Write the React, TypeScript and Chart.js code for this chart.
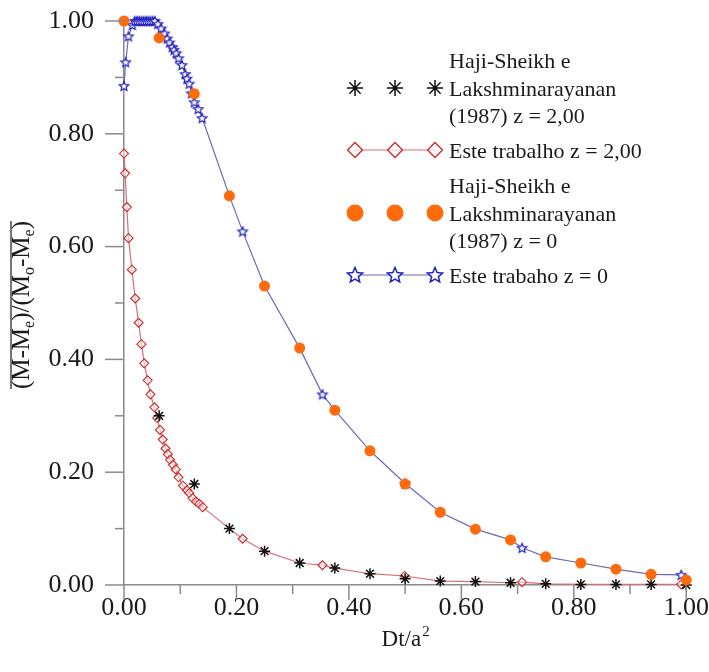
import React, { useEffect, useRef } from "react";
import { Chart, registerables } from "chart.js";
Chart.register(...registerables);

const SERIF = "'Liberation Serif', 'Times New Roman', serif";
const AXIS = "#8a8a8a";
const TEXT = "#1a1a1a";

// Haji-Sheikh e Lakshminarayanan (1987) z = 2,00  (black asterisks)
const hsZ2X = [0.0625, 0.125, 0.1875, 0.25, 0.3125, 0.375, 0.4375, 0.5, 0.5625, 0.625, 0.6875, 0.75, 0.8125, 0.875, 0.9375, 1.0];
const hsZ2Y = [0.300, 0.179, 0.100, 0.060, 0.039, 0.030, 0.020, 0.011, 0.007, 0.006, 0.004, 0.002, 0.001, 0.001, 0.001, 0.0];

// Este trabalho z = 2,00 (red diamonds)
const twZ2X = [0.000, 0.002, 0.005, 0.008, 0.014, 0.020, 0.026, 0.031, 0.036, 0.042, 0.047, 0.054, 0.059, 0.064, 0.069, 0.074, 0.078, 0.082, 0.087, 0.092, 0.097, 0.105, 0.112, 0.116, 0.122, 0.128, 0.134, 0.140, 0.211, 0.353, 0.499, 0.708, 0.991];
const twZ2Y = [0.765, 0.730, 0.670, 0.615, 0.559, 0.508, 0.465, 0.427, 0.393, 0.363, 0.338, 0.315, 0.296, 0.275, 0.258, 0.242, 0.232, 0.222, 0.213, 0.205, 0.191, 0.176, 0.168, 0.163, 0.154, 0.148, 0.144, 0.138, 0.082, 0.035, 0.016, 0.005, 0.001];

// Haji-Sheikh e Lakshminarayanan (1987) z = 0 (orange circles)
const hsZ0X = [0, 0.0625, 0.125, 0.1875, 0.25, 0.3125, 0.375, 0.4375, 0.5, 0.5625, 0.625, 0.6875, 0.75, 0.8125, 0.875, 0.9375, 1.0];
const hsZ0Y = [1.0, 0.970, 0.871, 0.690, 0.530, 0.420, 0.310, 0.238, 0.179, 0.129, 0.099, 0.080, 0.050, 0.039, 0.028, 0.019, 0.009];

// Este trabaho z = 0 (blue stars)
const twZ0X = [0.000, 0.003, 0.008, 0.015, 0.019, 0.023, 0.027, 0.031, 0.035, 0.039, 0.043, 0.047, 0.051, 0.055, 0.060, 0.066, 0.072, 0.077, 0.081, 0.086, 0.089, 0.093, 0.097, 0.103, 0.109, 0.112, 0.116, 0.120, 0.125, 0.132, 0.139, 0.211, 0.353, 0.500, 0.708, 0.991];
const twZ0Y = [0.885, 0.927, 0.973, 0.993, 1.0, 1.0, 1.0, 1.0, 1.0, 1.0, 1.0, 1.0, 1.0, 1.0, 0.995, 0.987, 0.978, 0.969, 0.962, 0.954, 0.949, 0.943, 0.934, 0.922, 0.906, 0.898, 0.889, 0.872, 0.856, 0.844, 0.828, 0.627, 0.338, 0.180, 0.066, 0.018];

const tickValues = [0, 0.1, 0.2, 0.3, 0.4, 0.5, 0.6, 0.7, 0.8, 0.9, 1.0];

const legendZ2Ref = ["Haji-Sheikh e", "Lakshminarayanan", "(1987) z = 2,00"];
const legendZ2Work = ["Este trabalho z = 2,00"];
const legendZ0Ref = ["Haji-Sheikh e", "Lakshminarayanan", "(1987) z = 0"];
const legendZ0Work = ["Este trabaho z = 0"];

const BLUE = "#2424c0";
const BLUE_LINE = "#6a6ab8";
const RED = "#d02828";
const RED_LINE = "#d87070";
const ORANGE = "#ff6a0a";

function makeStarCanvas(r: number, color: string, lw: number) {
  const pad = 2;
  const size = Math.ceil(2 * (r + pad));
  const c = document.createElement("canvas");
  c.width = size;
  c.height = size;
  const ctx = c.getContext("2d")!;
  const cx = size / 2, cy = size / 2 + 0.5;
  const ri = r * 0.45;
  ctx.beginPath();
  for (let i = 0; i < 10; i++) {
    const a = -Math.PI / 2 + (i * Math.PI) / 5;
    const rr = i % 2 === 0 ? r : ri;
    const px = cx + rr * Math.cos(a), py = cy + rr * Math.sin(a);
    if (i === 0) ctx.moveTo(px, py); else ctx.lineTo(px, py);
  }
  ctx.closePath();
  ctx.fillStyle = "#ffffff";
  ctx.fill();
  ctx.strokeStyle = color;
  ctx.lineWidth = lw;
  ctx.stroke();
  return c;
}

function pts(xs: number[], ys: number[]) {
  return xs.map((x, i) => ({ x, y: ys[i] }));
}

function mergeLine(mx: number[], my: number[], hx: number[], hy: number[], from: number) {
  const p = pts(mx, my);
  hx.forEach((x, i) => {
    if (x >= from && !mx.some((m) => Math.abs(m - x) < 0.015)) p.push({ x, y: hy[i] });
  });
  p.sort((a, b) => a.x - b.x);
  return p;
}

function drawAsterisk(ctx: CanvasRenderingContext2D, x: number, y: number, r: number) {
  ctx.beginPath();
  ctx.moveTo(x - r, y); ctx.lineTo(x + r, y);
  ctx.moveTo(x, y - r); ctx.lineTo(x, y + r);
  const d = r * Math.SQRT1_2;
  ctx.moveTo(x - d, y - d); ctx.lineTo(x + d, y + d);
  ctx.moveTo(x - d, y + d); ctx.lineTo(x + d, y - d);
  ctx.stroke();
}

export default function App() {
  const ref = useRef<HTMLCanvasElement>(null);
  useEffect(() => {
    const starSmall = makeStarCanvas(5, BLUE, 1.2);
    const starBig = makeStarCanvas(8, BLUE, 1.5);

    const overlay = {
      id: "overlay",
      afterDraw(chart: any) {
        const ctx: CanvasRenderingContext2D = chart.ctx;
        const xs = chart.scales.x, ys = chart.scales.y;
        const area = chart.chartArea;
        ctx.save();
        // ticks
        ctx.strokeStyle = AXIS;
        ctx.lineWidth = 1.5;
        tickValues.forEach((v, i) => {
          const major = i % 2 === 0;
          const px = xs.getPixelForValue(v);
          ctx.beginPath();
          ctx.moveTo(px, area.bottom);
          ctx.lineTo(px, area.bottom + (major ? 15 : 9));
          ctx.stroke();
          const py = ys.getPixelForValue(v);
          ctx.beginPath();
          ctx.moveTo(area.left, py);
          ctx.lineTo(area.left - (major ? 19 : 9), py);
          ctx.stroke();
        });

        // x title
        ctx.fillStyle = TEXT;
        ctx.textBaseline = "alphabetic";
        ctx.textAlign = "left";
        ctx.font = `23px ${SERIF}`;
        const main = "Dt/a";
        const wMain = ctx.measureText(main).width;
        ctx.font = `15px ${SERIF}`;
        const wSup = ctx.measureText("2").width;
        const xStart = (area.left + area.right) / 2 - (wMain + wSup) / 2;
        ctx.font = `23px ${SERIF}`;
        ctx.fillText(main, xStart, 646);
        ctx.font = `15px ${SERIF}`;
        ctx.fillText("2", xStart + wMain + 1, 636);

        // y title
        const big = `25px ${SERIF}`;
        const small = `16px ${SERIF}`;
        const parts: [string, boolean][] = [["(M-M", false], ["e", true], [")/(M", false], ["o", true], ["-M", false], ["e", true], [")", false]];
        let total = 0;
        parts.forEach(([t, sub]) => {
          ctx.font = sub ? small : big;
          total += ctx.measureText(t).width;
        });
        ctx.save();
        ctx.translate(29, 305);
        ctx.rotate(-Math.PI / 2);
        let cx = -total / 2;
        parts.forEach(([t, sub]) => {
          ctx.font = sub ? small : big;
          ctx.fillText(t, cx, sub ? 5 : 0);
          cx += ctx.measureText(t).width;
        });
        ctx.strokeStyle = TEXT;
        ctx.lineWidth = 1.2;
        ctx.beginPath();
        ctx.moveTo(-total / 2, -18);
        ctx.lineTo(total / 2, -18);
        ctx.stroke();
        ctx.restore();

        // legend
        const mx = [355, 395, 435];
        const tx = 449;
        ctx.font = `22px ${SERIF}`;
        ctx.fillStyle = TEXT;
        const writeLines = (lines: string[], firstBaseline: number) => {
          lines.forEach((l, i) => ctx.fillText(l, tx, firstBaseline + i * 27.5));
        };
        // entry 1: asterisks
        ctx.strokeStyle = "#111";
        ctx.lineWidth = 1.5;
        mx.forEach((x) => drawAsterisk(ctx, x, 88, 8));
        writeLines(legendZ2Ref, 68);
        // entry 2: red diamonds with line
        ctx.strokeStyle = RED_LINE;
        ctx.lineWidth = 1.2;
        ctx.beginPath();
        ctx.moveTo(mx[0], 150); ctx.lineTo(mx[2], 150);
        ctx.stroke();
        ctx.strokeStyle = RED;
        ctx.lineWidth = 1.3;
        mx.forEach((x) => {
          const r = 7.5;
          ctx.beginPath();
          ctx.moveTo(x, 150 - r); ctx.lineTo(x + r, 150); ctx.lineTo(x, 150 + r); ctx.lineTo(x - r, 150);
          ctx.closePath();
          ctx.fillStyle = "rgba(255,255,255,0.6)";
          ctx.fill();
          ctx.stroke();
        });
        ctx.fillStyle = TEXT;
        writeLines(legendZ2Work, 157.5);
        // entry 3: orange circles
        ctx.fillStyle = ORANGE;
        mx.forEach((x) => {
          ctx.beginPath();
          ctx.arc(x, 213, 8.5, 0, Math.PI * 2);
          ctx.fill();
        });
        ctx.fillStyle = TEXT;
        writeLines(legendZ0Ref, 193);
        // entry 4: blue stars with line
        ctx.strokeStyle = BLUE_LINE;
        ctx.lineWidth = 1.2;
        ctx.beginPath();
        ctx.moveTo(mx[0], 275); ctx.lineTo(mx[2], 275);
        ctx.stroke();
        mx.forEach((x) => ctx.drawImage(starBig, x - starBig.width / 2, 275 - starBig.height / 2));
        ctx.fillStyle = TEXT;
        writeLines(legendZ0Work, 282.5);
        ctx.restore();
      },
    };

    const tickFont = { family: SERIF, size: 26 };
    const labelCb = (v: any) => {
      const n = Math.round(Number(v) * 10);
      return n % 2 === 0 ? (n / 10).toFixed(2) : "";
    };

    const chart = new Chart(ref.current!, {
      type: "line",
      data: {
        datasets: [
          {
            label: "Haji-Sheikh e Lakshminarayanan (1987) z = 0",
            data: pts(hsZ0X, hsZ0Y),
            showLine: false,
            pointStyle: "circle",
            pointRadius: 5.5,
            pointBackgroundColor: ORANGE,
            pointBorderColor: ORANGE,
            pointBorderWidth: 0,
            clip: false,
          } as any,
          {
            label: "Haji-Sheikh e Lakshminarayanan (1987) z = 2,00",
            data: pts(hsZ2X, hsZ2Y),
            showLine: false,
            pointStyle: "star",
            pointRadius: 5.5,
            pointBorderColor: "#111",
            pointBackgroundColor: "#111",
            pointBorderWidth: 1.5,
            clip: false,
          },
          {
            label: "Este trabaho z = 0",
            data: pts(twZ0X, twZ0Y),
            showLine: false,
            pointStyle: starSmall,
            pointRadius: 5,
            clip: false,
          },
          {
            label: "Este trabalho z = 2,00",
            data: pts(twZ2X, twZ2Y),
            showLine: false,
            pointStyle: "rectRot",
            pointRadius: 4.5,
            pointBorderColor: RED,
            pointBackgroundColor: "rgba(255,255,255,0.5)",
            pointBorderWidth: 1.1,
            clip: false,
          },
          {
            label: "z0 line",
            data: mergeLine(twZ0X, twZ0Y, hsZ0X, hsZ0Y, 0.18),
            borderColor: BLUE_LINE,
            borderWidth: 1.2,
            pointRadius: 0,
            tension: 0,
            clip: false,
          },
          {
            label: "z2 line",
            data: mergeLine(twZ2X, twZ2Y, hsZ2X, hsZ2Y, 0.18),
            borderColor: RED_LINE,
            borderWidth: 1.2,
            pointRadius: 0,
            tension: 0,
            clip: false,
          },
        ],
      },
      options: {
        animation: false,
        responsive: true,
        maintainAspectRatio: false,
        layout: { padding: { top: 21, right: 22, left: 0, bottom: 0 } },
        plugins: { legend: { display: false }, tooltip: { enabled: false } },
        scales: {
          x: {
            type: "linear",
            min: 0,
            max: 1,
            afterBuildTicks: (s: any) => { s.ticks = tickValues.map((v) => ({ value: v })); },
            afterFit: (s: any) => { s.height = 87; },
            grid: { display: false, drawTicks: true, tickLength: 8 },
            border: { display: true, color: AXIS, width: 1.5 },
            ticks: { callback: labelCb, font: tickFont, color: TEXT, padding: 0, autoSkip: false, maxRotation: 0 },
          },
          y: {
            type: "linear",
            min: 0,
            max: 1,
            afterBuildTicks: (s: any) => { s.ticks = tickValues.map((v) => ({ value: v })); },
            afterFit: (s: any) => { s.width = 124; },
            grid: { display: false, drawTicks: true, tickLength: 30 },
            border: { display: true, color: AXIS, width: 1.5 },
            ticks: { callback: labelCb, font: tickFont, color: TEXT, padding: 0, autoSkip: false },
          },
        },
      },
      plugins: [overlay],
    });
    return () => chart.destroy();
  }, []);

  return (
    <div style={{ position: "fixed", left: 0, top: 0, width: 709, height: 672, background: "#fff" }}>
      <canvas ref={ref} />
    </div>
  );
}
